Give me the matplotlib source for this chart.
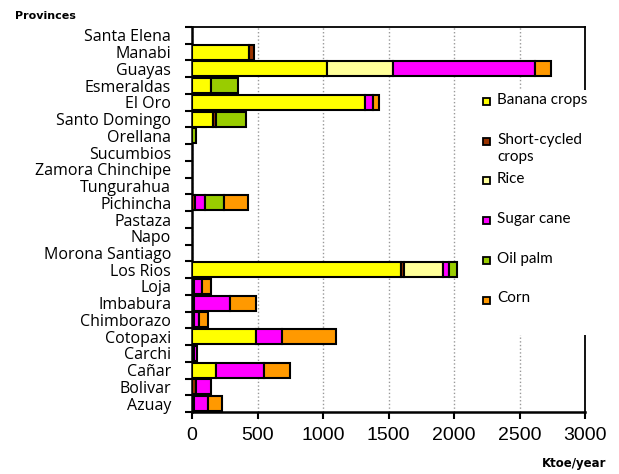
import matplotlib
matplotlib.use("Agg")
import matplotlib.pyplot as plt
from matplotlib.patches import Rectangle
import numpy as np

# provinces, top to bottom
provinces = ["Santa Elena", "Manabi", "Guayas", "Esmeraldas", "El Oro", "Santo Domingo",
             "Orellana", "Sucumbios", "Zamora Chinchipe", "Tungurahua", "Pichincha",
             "Pastaza", "Napo", "Morona Santiago", "Los Rios", "Loja", "Imbabura",
             "Chimborazo", "Cotopaxi", "Carchi", "Cañar", "Bolivar", "Azuay"]

# Ktoe/year per crop (same order as provinces)
banana = [0, 436, 1030, 147, 1320, 162, 0, 0, 0, 0, 0, 0, 0, 0, 1595, 0, 0, 0, 487, 0, 183, 0, 0]
short_cycled = [0, 35, 0, 0, 0, 25, 0, 0, 0, 0, 25, 0, 0, 0, 25, 15, 15, 15, 0, 12, 0, 30, 15]
rice = [0, 0, 507, 0, 0, 0, 0, 0, 0, 0, 0, 0, 0, 0, 295, 0, 0, 0, 0, 0, 0, 0, 0]
sugar_cane = [0, 0, 1081, 0, 60, 0, 0, 0, 0, 0, 76, 0, 0, 0, 45, 60, 275, 40, 198, 28, 365, 117, 107]
oil_palm = [0, 0, 0, 203, 0, 225, 30, 0, 0, 0, 143, 0, 0, 0, 65, 0, 0, 0, 0, 0, 0, 0, 0]
corn = [0, 0, 122, 0, 50, 0, 0, 0, 0, 0, 182, 0, 0, 0, 0, 72, 198, 66, 411, 0, 198, 0, 106]

crop_names = ["Banana crops", "Short-cycled\ncrops", "Rice", "Sugar cane", "Oil palm", "Corn"]
crop_values = [banana, short_cycled, rice, sugar_cane, oil_palm, corn]
crop_colors = ["#FFFF00", "#993300", "#FFFF99", "#FF00FF", "#99CC00", "#FF9900"]

W, H = 619, 474
fig = plt.figure(figsize=(W / 100, H / 100), dpi=100)
ax = fig.add_axes([192 / W, 1 - 412 / H, (585 - 192) / W, (412 - 27) / H])

y = np.arange(len(provinces))
left = np.zeros(len(provinces))
for vals, col in zip(crop_values, crop_colors):
    v = np.array(vals, dtype=float)
    m = v > 0
    ax.barh(y[m], v[m], left=left[m], height=0.9, color=col,
            edgecolor="black", linewidth=1.5, zorder=3)
    left += v

ax.set_xlim(0, 3000)
ax.set_ylim(len(provinces) - 0.5, -0.5)
ax.set_xticks(np.arange(0, 3001, 500))
ax.set_yticks(y)
ax.set_yticklabels(provinces, fontfamily="Open Sans", fontsize=11.5)
ax.set_yticks(np.arange(-0.5, len(provinces), 1), minor=True)
ax.tick_params(axis="y", which="major", length=0, pad=15)
ax.tick_params(axis="y", which="minor", length=5, width=1.5, direction="out")
ax.tick_params(axis="x", length=5, width=1.5, direction="out", labelsize=14, pad=6)
for lab in ax.get_xticklabels():
    lab.set_fontfamily("Liberation Sans")

ax.grid(axis="x", color="#999999", linestyle=":", linewidth=1, zorder=0)
for side in ["left", "bottom"]:
    ax.spines[side].set_linewidth(1.8)
for side in ["top", "right"]:
    ax.spines[side].set_linewidth(1.3)

fig.text(15 / W, 1 - 16 / H, "Provinces", fontfamily="DejaVu Sans", fontweight="bold",
         fontsize=8, va="center", ha="left")
fig.text(606 / W, 1 - 464 / H, "Ktoe/year", fontfamily="DejaVu Sans", fontweight="bold",
         fontsize=8.5, va="center", ha="right")

# legend drawn over the plot on a white box
fig.add_artist(Rectangle((476 / W, 1 - 335 / H), 136 / W, 245 / H, transform=fig.transFigure,
                         facecolor="white", edgecolor="none", zorder=5))
for i, (name, col) in enumerate(zip(crop_names, crop_colors)):
    yc = 101.5 + 39.7 * i
    fig.add_artist(Rectangle((483 / W, 1 - (yc + 3.5) / H), 7 / W, 7 / H,
                             transform=fig.transFigure, facecolor=col,
                             edgecolor="black", linewidth=1.3, zorder=6))
    fig.text(497 / W, 1 - (yc - 8.5) / H, name, fontfamily="Lato", fontsize=11,
             va="top", ha="left", linespacing=1.3, zorder=7)

fig.savefig("out.png", dpi=100)
